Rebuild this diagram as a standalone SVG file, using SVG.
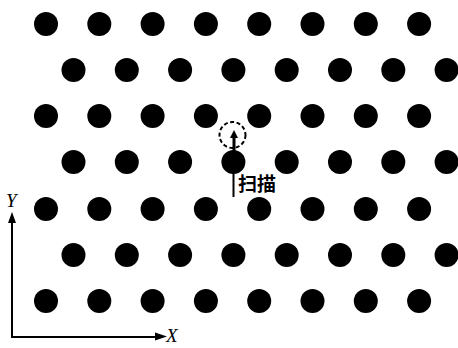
<svg xmlns="http://www.w3.org/2000/svg" width="458" height="348" viewBox="0 0 458 348">
<style>
.dot{fill:#000}
.ax{stroke:#000;stroke-width:2;fill:none}
.lbl{font-family:"Liberation Serif",serif;font-style:italic;font-size:19px;fill:#000}
.cjk{font-family:"Noto Sans CJK SC",sans-serif;font-size:19px;font-weight:bold;fill:#000}
</style>
<defs>
<circle id="d" r="12" class="dot"/>
</defs>
<rect width="458" height="348" fill="#fff"/>
<g id="lattice">
<g id="row1">
<use href="#d" x="46" y="24"/><use href="#d" x="99.3" y="24"/><use href="#d" x="152.6" y="24"/><use href="#d" x="205.9" y="24"/><use href="#d" x="259.2" y="24"/><use href="#d" x="312.5" y="24"/><use href="#d" x="365.8" y="24"/><use href="#d" x="419.1" y="24"/>
</g>
<g id="row2">
<use href="#d" x="73.5" y="70"/><use href="#d" x="126.8" y="70"/><use href="#d" x="180.1" y="70"/><use href="#d" x="233.4" y="70"/><use href="#d" x="286.7" y="70"/><use href="#d" x="340" y="70"/><use href="#d" x="393.3" y="70"/><use href="#d" x="446.6" y="70"/>
</g>
<g id="row3">
<use href="#d" x="46" y="116"/><use href="#d" x="99.3" y="116"/><use href="#d" x="152.6" y="116"/><use href="#d" x="205.9" y="116"/><use href="#d" x="259.2" y="116"/><use href="#d" x="312.5" y="116"/><use href="#d" x="365.8" y="116"/><use href="#d" x="419.1" y="116"/>
</g>
<g id="row4">
<use href="#d" x="73.5" y="162"/><use href="#d" x="126.8" y="162"/><use href="#d" x="180.1" y="162"/><use href="#d" x="233.4" y="162"/><use href="#d" x="286.7" y="162"/><use href="#d" x="340" y="162"/><use href="#d" x="393.3" y="162"/><use href="#d" x="446.6" y="162"/>
</g>
<g id="row5">
<use href="#d" x="46" y="209"/><use href="#d" x="99.3" y="209"/><use href="#d" x="152.6" y="209"/><use href="#d" x="205.9" y="209"/><use href="#d" x="259.2" y="209"/><use href="#d" x="312.5" y="209"/><use href="#d" x="365.8" y="209"/><use href="#d" x="419.1" y="209"/>
</g>
<g id="row6">
<use href="#d" x="73.5" y="255"/><use href="#d" x="126.8" y="255"/><use href="#d" x="180.1" y="255"/><use href="#d" x="233.4" y="255"/><use href="#d" x="286.7" y="255"/><use href="#d" x="340" y="255"/><use href="#d" x="393.3" y="255"/><use href="#d" x="446.6" y="255"/>
</g>
<g id="row7">
<use href="#d" x="46" y="301"/><use href="#d" x="99.3" y="301"/><use href="#d" x="152.6" y="301"/><use href="#d" x="205.9" y="301"/><use href="#d" x="259.2" y="301"/><use href="#d" x="312.5" y="301"/><use href="#d" x="365.8" y="301"/><use href="#d" x="419.1" y="301"/>
</g>
</g>
<g id="scan">
<circle cx="232.5" cy="135" r="13" fill="none" stroke="#000" stroke-width="2" stroke-dasharray="4,2.5"/>
<line x1="234" y1="136" x2="234" y2="162" stroke="#000" stroke-width="3"/>
<path d="M234,130 L238,138 L230,138 Z" fill="#000"/>
<line x1="233.5" y1="162" x2="233.5" y2="197" stroke="#000" stroke-width="2"/>
<text x="238" y="191" class="cjk">扫描</text>
</g>
<g id="axes">
<polyline class="ax" points="12,222 12,337 157,337"/>
<path d="M12,212 L16,223 L8,223 Z" fill="#000"/>
<path d="M167,336.5 L155,332.5 L155,340.5 Z" fill="#000"/>
<text x="6" y="207" class="lbl">Y</text>
<text x="166" y="342" class="lbl">X</text>
</g>
</svg>
